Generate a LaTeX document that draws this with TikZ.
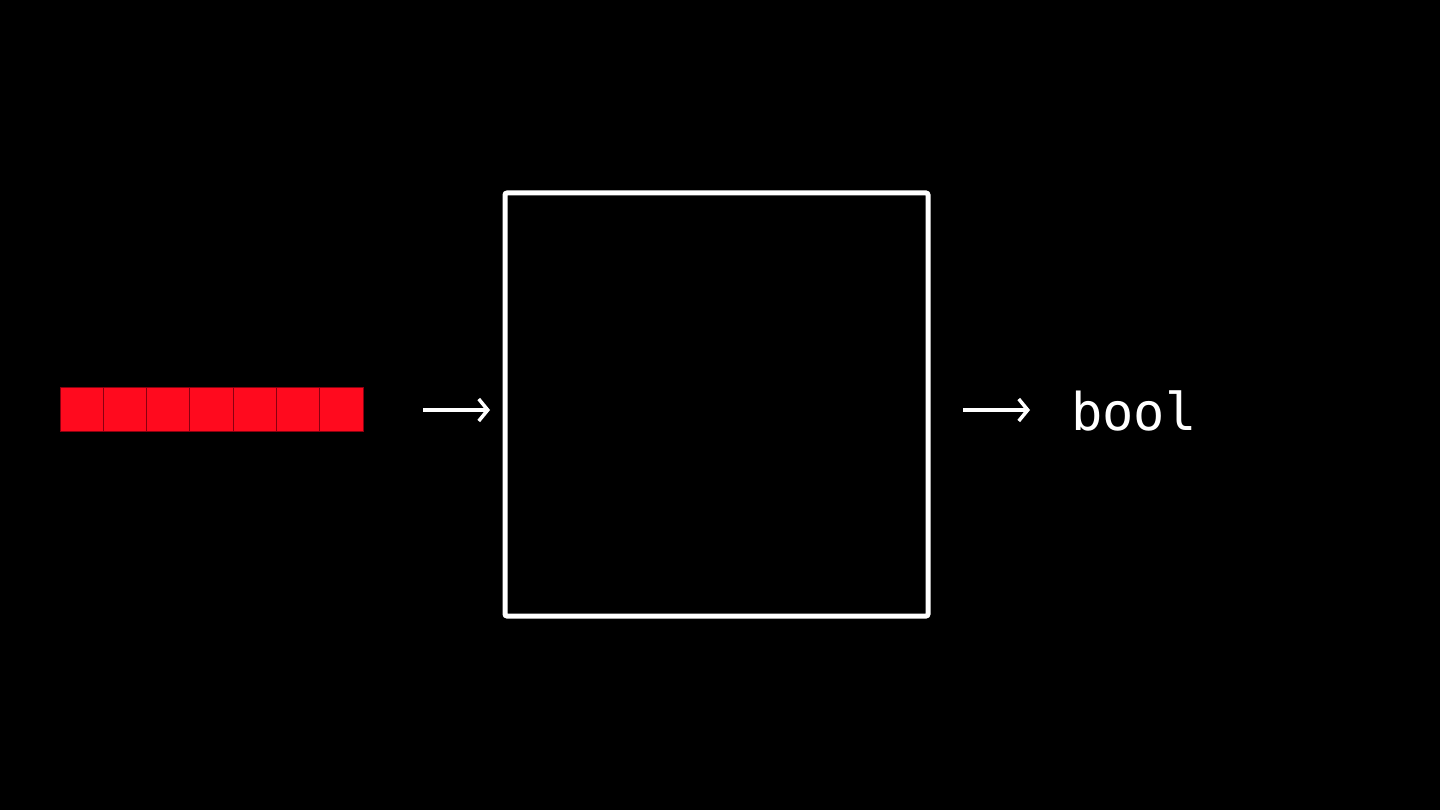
\documentclass[tikz,border=0pt]{standalone}
\usepackage{fontspec}
\setmonofont{DejaVu Sans Mono}
\usetikzlibrary{arrows.meta}
\definecolor{cellred}{HTML}{FF0A1E}
\definecolor{celledge}{HTML}{8A0010}
\tikzset{
  cell/.style={draw=celledge, line width=1pt, fill=cellred, minimum width=43.3pt, minimum height=44pt, inner sep=0pt, outer sep=0pt, anchor=west},
  bigbox/.style={draw=white, line width=5pt, rounded corners=2pt, minimum width=423pt, minimum height=423pt, inner sep=0pt},
  flow/.style={white, line width=3.5pt, -{Straight Barb[length=9pt,width=22pt,line width=3.5pt]}},
  label/.style={text=white, font=\ttfamily\fontsize{52}{62}\selectfont, inner sep=0pt, anchor=west}
}
\begin{document}
\begin{tikzpicture}[x=1pt,y=-1pt]
\useasboundingbox (0,0) rectangle (1440,810);
\fill[black] (0,0) rectangle (1440,810);
\foreach \i in {0,...,6} {
  \node[cell] (c\i) at ({60+43.3*\i},409) {};
}
\node[bigbox] (box) at (716.5,404.5) {};
\coordinate (a1s) at (423,410);
\coordinate (a1e) at (490,410);
\draw[flow] (a1s) -- (a1e);
\coordinate (a2s) at (963,410);
\coordinate (a2e) at (1030,410);
\draw[flow] (a2s) -- (a2e);
\node[label] (out) at (1071,411) {bool};
\end{tikzpicture}
\end{document}
